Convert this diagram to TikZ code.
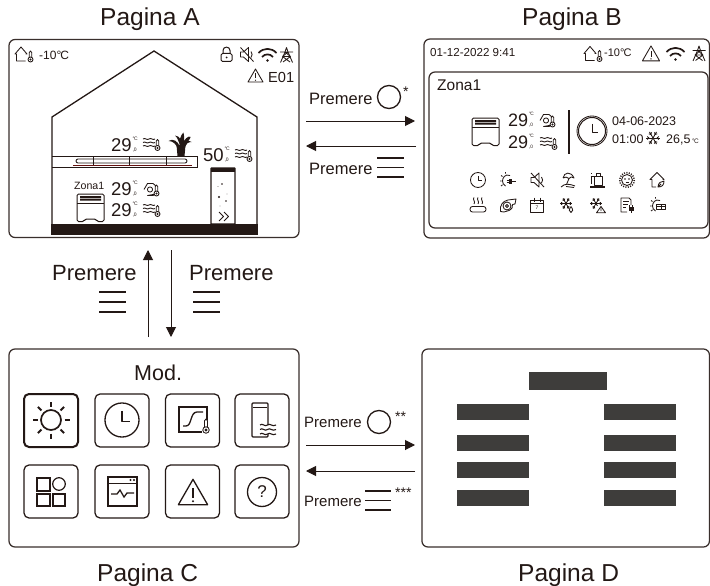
\documentclass[tikz,border=0pt]{standalone}
\usepackage{fontspec}
\setmainfont{Liberation Sans}
\usetikzlibrary{arrows.meta}
\definecolor{ink}{HTML}{231815}
\definecolor{bar}{HTML}{3E3D3B}
\newcommand\lbl[5][base west]{\node[anchor=#1,inner sep=0pt,text=ink,font=\fontsize{#4}{#4}\selectfont] (#2) at (#3) {#5};}
% reading: name, position, value, size, small size
\newcommand\rd[5]{\lbl{#1}{#2}{#4}{#3}%
 \node[anchor=base west,inner sep=0pt,text=ink,font=\fontsize{#5}{#5}\selectfont] (#1c) at ([shift={(0.4,-0.56*#4)}]#1.base east) {°\kern-.1em C};%
 \node[anchor=base west,inner sep=0pt,text=ink,font=\fontsize{#5}{#5}\selectfont] (#1d) at ([shift={(0.4,0)}]#1.base east) {,0};}
\tikzset{
 x=1pt,y=-1pt,
 panel/.style={draw=ink!90,line width=1.25pt,rounded corners=6pt,inner sep=0pt},
 tile/.style={draw=ink,line width=1.25pt,rounded corners=5pt,inner sep=0pt,minimum width=54pt,minimum height=53pt},
 darkbar/.style={fill=bar,draw=none,inner sep=0pt},
 arr/.style={draw=ink,line width=1pt,-{Triangle[length=10pt,width=10pt]}},
 ico/.style={draw=ink,line width=.85pt,line join=round},
 pics/icTherm/.style={code={
  \draw[ico,fill=white] (-1.2,0) -- (-1.2,-7) .. controls (-1.2,-9) and (1.2,-9) .. (1.2,-7) -- (1.2,0);
  \draw[ico,fill=white] (0,0) circle[radius=2.5];
  \fill[ink] (0,0) circle[radius=1.2];}},
 pics/icWaves/.style={code={
  \foreach \yy in {-11,-7.5,-4}{
   \draw[ico] (0,\yy) .. controls (2,\yy-1.8) and (4,\yy+1.8) .. (6,\yy) .. controls (8,\yy-1.8) and (10,\yy+1.8) .. (12,\yy);}
  \pic at (14.5,-2) {icTherm};}},
 pics/icHex/.style={code={
  \draw[ico] (0,-6.5) -- (3.5,-12.5) -- (9,-12.5) -- (12,-10) (12,-2) -- (9,-.5) -- (3.5,-.5) -- cycle;
  \draw[ico] (6,-6.5) circle[radius=2.6];
  \pic at (12.5,-2.5) {icTherm};}},
 pics/icHouse/.style={code={
  \draw[ico] (4,7) -- (-4.5,7) -- (-4.5,0) -- (-6,0) -- (0,-7) -- (6,0) -- (4.5,0) (4.5,7) -- (4,7);
  \pic at (9.5,5.5) {icTherm};}},
 pics/icRad/.style={code={
  \draw[ico,line width=1pt,rounded corners=1.5pt] (0,1) -- (27,1) -- (27,28.5) -- (20,28.5) -- (19,26) -- (8,26) -- (7,28.5) -- (0,28.5) -- cycle;
  \draw[ico,line width=1pt] (0,10) -- (27,10);
  \fill[ink] (3,3) rectangle (24,4.8) (3,5.6) rectangle (24,7.6);}},
 pics/icClock/.style={code={
  \draw[ico,line width=\pgfkeysvalueof{/tikz/clw}] (0,0) circle[radius=7.5];
  \draw[ico,line width=\pgfkeysvalueof{/tikz/clw}] (0,-4) -- (0,.7) -- (3.6,.7);}},
 clw/.initial=.85pt,
 pics/icWarn/.style={code={
  \draw[ico,line width=\pgfkeysvalueof{/tikz/clw}] (0,-7) -- (-7.5,6) -- (7.5,6) -- cycle;
  \draw[ico,line width=\pgfkeysvalueof{/tikz/clw}] (0,-2.5) -- (0,2.5);
  \fill[ink] (0,4.2) circle[radius=.6];}},
 pics/icLock/.style={code={
  \draw[ico,line width=1pt,rounded corners=1.5pt] (-5.5,-1) rectangle (5.5,7);
  \draw[ico,line width=1pt] (-3.5,-1) -- (-3.5,-4) .. controls (-3.5,-8.5) and (3.5,-8.5) .. (3.5,-4) -- (3.5,-1);
  \fill[ink] (0,3) circle[radius=1];}},
 pics/icMute/.style={code={
  \draw[ico] (-6,-2.5) -- (-3,-2.5) -- (2,-7) -- (2,7) -- (-3,2.5) -- (-6,2.5) -- cycle;
  \draw[ico] (4.5,-3) .. controls (6,-1) and (6,1) .. (4.5,3);
  \draw[ico] (-6,-7) -- (7,7);}},
 pics/icWifi/.style={code={
  \draw[ink,line width=1.7pt] (-9,-2) .. controls (-4,-7.5) and (4,-7.5) .. (9,-2);
  \draw[ink,line width=1.7pt] (-5.5,2) .. controls (-2.5,-1.5) and (2.5,-1.5) .. (5.5,2);
  \fill[ink] (0,5.5) circle[radius=1.4];}},
 pics/icTower/.style={code={
  \draw[ico] (-6,7.5) -- (-1.5,-3) -- (0,-7.5) -- (1.5,-3) -- (6,7.5);
  \draw[ico] (-6.5,-3) -- (6.5,-3) (-4,1.5) -- (4,1.5) (-4,1.5) -- (3.5,7) (4,1.5) -- (-3.5,7) (-1.5,-3) -- (4,1.5) (1.5,-3) -- (-4,1.5);}},
 pics/icFlake/.style={code={
  \foreach \aa in {0,60,120,180,240,300}{
   \draw[ico] (0,0) -- (\aa:7);
   \draw[ico] (\aa:4) -- ++(\aa+40:2.3) (\aa:4) -- ++(\aa-40:2.3);}}},
 pics/icSunArc/.style={code={
  \draw[ico] (3,-4.5) .. controls (-2,-6.5) and (-4.5,-2) .. (-4.5,1) .. controls (-4.5,3) and (-3.5,5) .. (-1.5,6);
  \draw[ico] (-7,1) -- (-5.5,1) (-6,-4.5) -- (-4.5,-3.5) (-1.5,-8) -- (-1.5,-6.3) (-6,6) -- (-4.5,4.8);}},
 pics/icSunPlug/.style={code={
  \pic {icSunArc};
  \fill[ink] (2,-1) rectangle (5,3.5);
  \draw[ico] (5,1.2) -- (8.5,1.2) (-.5,.2) -- (2,.2) (-.5,2.4) -- (2,2.4);}},
 pics/icSunGrid/.style={code={
  \pic {icSunArc};
  \draw[ico] (-.5,-1) rectangle (8.5,4.5) (-.5,1.8) -- (8.5,1.8) (4,-1) -- (4,4.5);}},
 pics/icUmbrella/.style={code={
  \draw[ico] (-5,-2) .. controls (-4,-8) and (3,-9) .. (6,-2) .. controls (4,-3.5) and (2.5,-3.5) .. (1,-1.5) .. controls (-1,-3) and (-3,-3.5) .. (-5,-2);
  \draw[ico] (1,-1.5) -- (-1.5,4.5);
  \draw[ico] (-7,7) .. controls (-3,3) and (2,4) .. (7,6) (-2,6.5) -- (6,7.5);}},
 pics/icUnit/.style={code={
  \draw[ico,line width=1pt] (-2.5,-3.5) rectangle (5,5);
  \draw[ico,line width=1pt] (-.5,-7) rectangle (3,-3.5);
  \draw[ink,line width=1.4pt] (-7,7) -- (8,7);
  \draw[ink,line width=1pt] (-6.5,-4) -- (-3.5,-4) (-6,-4) -- (-6,4) (-6,-7) -- (-6,-6);}},
 pics/icSunFace/.style={code={
  \draw[ico] (0,0) circle[radius=5.5];
  \draw[ink,line width=1.5pt,dash pattern=on 1pt off 1.4pt] (0,0) circle[radius=7.3];
  \fill[ink] (-2,-1) circle[radius=.8] (2,-1) circle[radius=.8];
  \draw[ico] (-1.5,2.5) -- (1.5,2.5);}},
 pics/icLeafHouse/.style={code={
  \draw[ico] (-1,7) -- (-5,7) -- (-5,-.5) -- (-7,-.5) -- (0,-7.5) -- (7,-.5) -- (5.5,-.5);
  \draw[ico] (1,7) .. controls (1,3) and (4,1) .. (7,1) .. controls (7,5) and (5,7) .. (1,7) -- cycle (1,7) -- (4,4);}},
 pics/icHeat/.style={code={
  \foreach \xx in {-4,0,4}{
   \draw[ico] (\xx,-7.5) .. controls (\xx-2,-5.5) and (\xx+2,-3.5) .. (\xx,-1);}
  \draw[ico,rounded corners=2.5pt] (-8,1.5) rectangle (8,7);}},
 pics/icPump/.style={code={
  \draw[ico] (-7.5,6.5) .. controls (-8.5,0) and (-5,-4) .. (0,-5) -- (8,-6) -- (7,-1) -- (4.5,-.5) .. controls (5,2) and (4,4) .. (1,5.5) -- (-4,7) -- cycle;
  \draw[ico] (-1,1) circle[radius=4] (-1,1) circle[radius=1.5];}},
 pics/icCal/.style={code={
  \draw[ico] (-6.5,-5) rectangle (6.5,7) (-6.5,-1.5) -- (6.5,-1.5) (-3,-7.5) -- (-3,-3) (3,-7.5) -- (3,-3);
  \node[inner sep=0pt,text=ink,font=\fontsize{5}{5}\selectfont] at (0,3) {7};}},
 pics/icFlakeDrop/.style={code={
  \pic[scale=.85] at (-1,-1.5) {icFlake};
  \draw[ico,fill=white] (4,1.5) .. controls (2,4) and (1.5,7) .. (4,7.5) .. controls (6.5,7) and (6,4) .. (4,1.5);}},
 pics/icFlakeWarn/.style={code={
  \pic[scale=.85] at (-1,-1.5) {icFlake};
  \fill[white] (-1,8) rectangle (9,1);
  \draw[ico] (4,1.5) -- (-.5,7.8) -- (8.5,7.8) -- cycle (4,3.5) -- (4,6);}},
 pics/icDocPlug/.style={code={
  \draw[ico] (0,7) -- (-6,7) -- (-6,-7) -- (2,-7) -- (4,-5) -- (4,0);
  \draw[ico] (-4,-3.5) -- (2,-3.5) (-4,-.5) -- (1,-.5) (-4,2.5) -- (-1,2.5);
  \fill[ink] (1.5,2) rectangle (6.5,5.5);
  \draw[ico] (4,5.5) -- (4,8) (2.7,0) -- (2.7,2) (5.3,0) -- (5.3,2);}},
 pics/icPlant/.style={code={
  \fill[ink] (-4.5,-11) -- (4.5,-11) -- (3.5,0) -- (-3.5,0) -- cycle;
  \fill[ink] (-1,-9) .. controls (-3,-15) and (-8,-18) .. (-12.5,-15) .. controls (-8,-15) and (-5,-12) .. (-3,-7) -- cycle;
  \fill[ink] (-1.5,-10) .. controls (-2,-17) and (0,-21) .. (2.5,-23.5) .. controls (3.5,-19) and (3.5,-14) .. (2,-10) -- cycle;
  \fill[ink] (0,-10) .. controls (3,-17) and (8,-21) .. (9.5,-19) .. controls (10,-18) and (6,-14) .. (3.5,-8) -- cycle;
  \fill[ink] (1,-12) .. controls (4,-15) and (8,-16) .. (10.5,-14) .. controls (7,-14) and (5,-12) .. (3.5,-9) -- cycle;
  \fill[ink] (-1,-11) .. controls (-3,-16) and (-4,-19) .. (-6,-20.5) .. controls (-1,-20) and (1,-15) .. (1,-11) -- cycle;}},
}
\begin{document}
\begin{tikzpicture}
\useasboundingbox (0,0) rectangle (710,586);
\fill[white] (0,0) rectangle (710,586);
% titles
\lbl{tA}{100,26}{24.5}{Pagina A}
\lbl{tB}{522,26}{24.5}{Pagina B}
\lbl{tC}{97,581}{24.5}{Pagina C}
\lbl{tD}{518,581}{24.5}{Pagina D}
% panels
\node[panel,minimum width=290pt,minimum height=198pt] (pA) at (154,138.5) {};
\node[panel,minimum width=285.5pt,minimum height=199pt] (pB) at (566.7,138.5) {};
\node[panel,minimum width=279pt,minimum height=156pt] (pBi) at (568.5,150) {};
\node[panel,minimum width=290pt,minimum height=198pt] (pC) at (154,448) {};
\node[panel,minimum width=287.5pt,minimum height=198pt] (pD) at (565.7,448) {};
% ---- Page A
\pic at (21,54) {icHouse};
\lbl{aT}{39,60}{12}{-10°\kern-.08em C}
\pic at (226.5,54.5) {icLock};
\pic at (246.5,54.5) {icMute};
\pic at (267.5,55) {icWifi};
\pic at (286.5,55) {icTower};
\pic at (255.5,76) {icWarn};
\lbl{aE}{268,83}{14.6}{E01}
\draw[ink,line width=1.3pt,line join=miter] (52,224) -- (52,117) -- (154,51) -- (257,117) -- (257,224);
\fill[ink] (51.4,224) rectangle (257.6,234.5);
\draw[ink,line width=.9pt] (52,156) -- (197,156) -- (197,167) -- (52,167);
\draw[ico,rounded corners=2pt] (76,159) rectangle (187,163);
\draw[ico] (93,156) -- (93,165) (129,156) -- (129,165) (166,156) -- (166,165);
\draw[color=ink!70!red,line width=.9pt] (73,165.5) -- (192,165.5);
\rd{aR1}{111,151}{29}{18.5}{5}
\pic at (143,150) {icWaves};
\pic at (181,156) {icPlant};
\rd{aR2}{203,161}{50}{18.5}{5}
\pic at (235,161) {icWaves};
\draw[ink,line width=1.1pt,rounded corners=.5pt] (211,168) rectangle (235,224);
\fill[ink] (211,168) rectangle (235,171.5);
\fill[ink] (222,184) circle[radius=.9] (219,197) circle[radius=1.2] (226,201) circle[radius=.8] (218,186.5) circle[radius=.4] (227,194) circle[radius=.4] (220,206) circle[radius=.4];
\draw[ico] (219,212) -- (223.5,216.5) -- (219,221) (224,212) -- (228.5,216.5) -- (224,221);
\lbl{aZ}{74,189}{10.6}{Zona1}
\pic at (77,193) {icRad};
\rd{aR3}{111,195}{29}{18.5}{5}
\pic at (144,196) {icHex};
\rd{aR4}{111,216}{29}{18.5}{5}
\pic at (143,216) {icWaves};
% ---- Page B
\lbl{bD}{430,57}{11.6}{01-12-2022 9:41}
\pic at (590,53.5) {icHouse};
\lbl{bT}{604,57}{11}{-10°\kern-.08em C}
\pic[scale=1.15] at (651,54) {icWarn};
\pic at (675.5,54) {icWifi};
\pic at (699,53.5) {icTower};
\lbl{bZ}{437,91}{15.5}{Zona1}
\pic at (472,117) {icRad};
\rd{bR1}{508,126}{29}{18}{4.8}
\pic at (540,127) {icHex};
\rd{bR2}{508,148}{29}{18}{4.8}
\pic at (540,149) {icWaves};
\draw[ink,line width=1.1pt] (569,110) -- (569,154);
\pic[scale=1.8,clw=1pt] at (592,131) {icClock};
\draw[ico] (592,131) circle[radius=15];
\lbl{bDa}{612,125}{12.5}{04-06-2023}
\lbl{bTi}{612,143}{12.5}{01:00}
\pic at (653,138) {icFlake};
\lbl{bDg}{666,143}{12.5}{26,5}
\lbl{bDc}{692,143}{6.5}{°\kern-.1em C}
\pic at (478,180) {icClock};
\pic at (507,180) {icSunPlug};
\pic at (537,180) {icMute};
\pic at (568,180) {icUmbrella};
\pic at (597,180) {icUnit};
\pic at (627,180) {icSunFace};
\pic at (657,180) {icLeafHouse};
\pic at (478,205) {icHeat};
\pic at (508,205) {icPump};
\pic at (537,205) {icCal};
\pic at (567,205) {icFlakeDrop};
\pic at (597,205) {icFlakeWarn};
\pic at (627,205) {icDocPlug};
\pic at (657,205) {icSunGrid};
% ---- Page C
\lbl{cM}{134,380}{21.5}{Mod.}
\node[tile,line width=2pt] (c1) at (51,420.5) {};
\node[tile] (c2) at (122,420.5) {};
\node[tile] (c3) at (192.5,420.5) {};
\node[tile] (c4) at (262,420.5) {};
\node[tile] (c5) at (51,491.5) {};
\node[tile] (c6) at (122,491.5) {};
\node[tile] (c7) at (192.5,491.5) {};
\node[tile] (c8) at (262,491.5) {};
\draw[ink,line width=1.7pt] (51,420) circle[radius=10];
\foreach \aa in {0,45,...,315}{\draw[ink,line width=2pt] (51,420) ++(\aa:13.5) -- ++(\aa:5);}
\pic[scale=2.27,clw=1.3pt] at (122,420) {icClock};
\draw[ink,line width=1.2pt] (207,420) -- (207,407) -- (179,407) -- (179,432) -- (202,432);
\draw[ink,line width=1.3pt] (183,426) -- (186,426) .. controls (192,426) and (190,412) .. (197,412) -- (203,412);
\pic[scale=1.3] at (206,430) {icTherm};
\draw[ink,line width=1.4pt,rounded corners=1pt] (268,425) -- (268,403) -- (252,403) -- (252,437) -- (268,437) -- (268,434);
\draw[ink,line width=1pt] (253,407) -- (267,407);
\foreach \yy in {425,429.5,434}{\draw[ink,line width=1.1pt] (260,\yy) .. controls (262.5,\yy-2.4) and (265,\yy+2.4) .. (267.5,\yy) .. controls (270,\yy-2.4) and (272.5,\yy+2.4) .. (276,\yy);}
\draw[ink,line width=1.2pt] (37,478) rectangle (50,491) (53,494) rectangle (65,506) (37,494) rectangle (50,506);
\draw[ink,line width=1.2pt] (59,484) circle[radius=6.3];
\draw[ink,line width=1.2pt] (108,477) rectangle (137,506) (108,483.5) -- (137,483.5);
\draw[ink,line width=.9pt,fill=ink] (130.5,480) circle[radius=.5] (134,480) circle[radius=.5];
\draw[ink,line width=1.3pt] (111,494) -- (117,494) -- (120,490) -- (124,497) -- (127,493) -- (134,493);
\pic[scale=1.95,clw=1.3pt] at (193,493) {icWarn};
\draw[ink,line width=1.3pt] (262,492) circle[radius=14.5];
\node[inner sep=0pt,text=ink,font=\fontsize{17}{17}\selectfont] (cQ) at (262,492) {?};
% ---- Page D
\node[darkbar,minimum width=78pt,minimum height=18pt] (d0) at (568,381) {};
\foreach \nm/\yy in {1/412,2/443,3/470,4/498}{
 \node[darkbar,minimum width=72pt,minimum height=16pt] (dl\nm) at (493,\yy) {};
 \node[darkbar,minimum width=72pt,minimum height=16pt] (dr\nm) at (640,\yy) {};}
% ---- connectors
\coordinate (ab1s) at (306,121); \coordinate (ab1e) at (415,121);
\coordinate (ab2s) at (416,146); \coordinate (ab2e) at (306,146);
\coordinate (ac1s) at (148,337); \coordinate (ac1e) at (148,250);
\coordinate (ac2s) at (171,250); \coordinate (ac2e) at (171,337);
\coordinate (cd1s) at (306,445); \coordinate (cd1e) at (415,445);
\coordinate (cd2s) at (415,471); \coordinate (cd2e) at (306,471);
\draw[arr] (ab1s) -- (ab1e);
\draw[arr] (ab2s) -- (ab2e);
\draw[arr] (ac1s) -- (ac1e);
\draw[arr] (ac2s) -- (ac2e);
\draw[arr] (cd1s) -- (cd1e);
\draw[arr] (cd2s) -- (cd2e);
% ---- button labels
\tikzset{btn/.style={draw=ink,line width=1.3pt},mline/.style={draw=ink,line width=1.6pt}}
\lbl{l1}{309,104}{16.5}{Premere}
\draw[btn] (389,97) circle[radius=11.5];
\lbl{l1s}{403,96}{14}{*}
\lbl{l2}{309,174}{16.5}{Premere}
\draw[mline] (377,158) -- (404,158) (377,167.5) -- (404,167.5) (377,177) -- (404,177);
\lbl{l3}{52,280}{22}{Premere}
\draw[mline] (99,292) -- (126,292) (99,302) -- (126,302) (99,312) -- (126,312);
\lbl{l4}{189,280}{22}{Premere}
\draw[mline] (193,292) -- (220,292) (193,302) -- (220,302) (193,312) -- (220,312);
\lbl{l5}{304,427}{15}{Premere}
\draw[btn] (379,422) circle[radius=11.5];
\lbl{l5s}{395,421}{14}{**}
\lbl{l6}{304,506}{15}{Premere}
\draw[mline] (365,491) -- (391,491) (365,500.5) -- (391,500.5) (365,510) -- (391,510);
\lbl{l6s}{395,497}{14}{***}
\end{tikzpicture}
\end{document}
